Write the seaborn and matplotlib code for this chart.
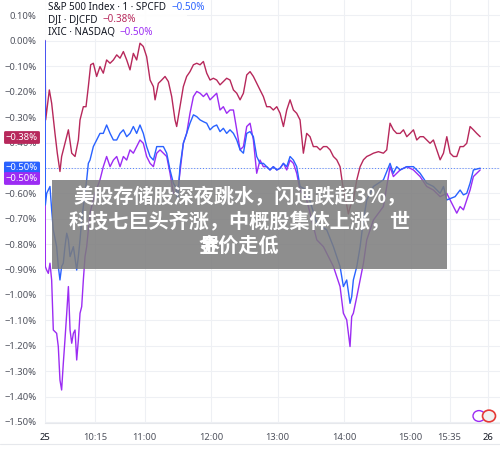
import numpy as np
import pandas as pd
import seaborn as sns
from matplotlib import pyplot as plt
from matplotlib.patches import Rectangle, Circle
from matplotlib.ticker import FuncFormatter

# minutes after 09:30, % change
spx = [(0, 0), (0.3, -0.646), (1.5, -0.600), (4.5, -0.573), (6.0, -0.665), (7.5, -0.744), (10.5, -0.810),
       (12.0, -0.888), (13.5, -0.941), (15.0, -0.888), (16.5, -0.875), (18.0, -0.810), (19.6, -0.757),
       (21.1, -0.783), (22.6, -0.849), (25.6, -0.810), (28.6, -0.902), (30.1, -0.849), (31.6, -0.783),
       (33.1, -0.705), (34.6, -0.652), (36.1, -0.600), (37.6, -0.547), (39.1, -0.482), (40.6, -0.469),
       (43.6, -0.416), (46.6, -0.390), (49.6, -0.364), (52.6, -0.364), (55.6, -0.331), (58.7, -0.364),
       (61.7, -0.390), (64.7, -0.390), (67.7, -0.364), (70.7, -0.350), (73.7, -0.377), (76.7, -0.364),
       (79.7, -0.337), (82.7, -0.364), (85.7, -0.331), (88.7, -0.364), (91.7, -0.416), (94.8, -0.455),
       (97.8, -0.469), (100.8, -0.416), (103.8, -0.416), (106.8, -0.416), (109.8, -0.442), (112.8, -0.508),
       (115.8, -0.560), (117.9, -0.575), (119.7, -0.626), (121.8, -0.495), (124.8, -0.403), (127.8, -0.364),
       (130.8, -0.324), (133.9, -0.291), (136.9, -0.298), (139.9, -0.311), (142.9, -0.318), (145.9, -0.324),
       (148.9, -0.350), (151.9, -0.337), (154.9, -0.331), (157.9, -0.357), (160.9, -0.344), (163.9, -0.364),
       (166.9, -0.350), (170.0, -0.364), (173.0, -0.390), (176.0, -0.429), (179.0, -0.442), (182.0, -0.364),
       (185.0, -0.357), (188.0, -0.377), (191.0, -0.455), (194.0, -0.482), (197.0, -0.482), (200.0, -0.495),
       (203.0, -0.508), (206.0, -0.495), (209.1, -0.508), (212.1, -0.501), (215.1, -0.482), (218.1, -0.495),
       (221.1, -0.455), (224.1, -0.469), (227.1, -0.495), (230.1, -0.573), (236.1, -0.587), (245.2, -0.718),
       (254.2, -0.744), (260.2, -0.810), (266.2, -0.888), (269.2, -0.967), (272.2, -0.941), (275.2, -1.033),
       (276.7, -1.007), (278.2, -0.941), (281.3, -0.888), (284.3, -0.810), (287.3, -0.705), (290.3, -0.626),
       (296.3, -0.573), (305.3, -0.547), (311.3, -0.482), (314.3, -0.521), (317.3, -0.495), (320.4, -0.508),
       (326.4, -0.495), (332.4, -0.495), (335.4, -0.508), (338.4, -0.521), (344.4, -0.560), (350.4, -0.573),
       (356.5, -0.600), (359.5, -0.573), (362.5, -0.626), (370.0, -0.613), (374.5, -0.587), (377.5, -0.606),
       (380.5, -0.600), (383.5, -0.560), (386.5, -0.508), (392.6, -0.501)]

dji = [(0, 0), (0.6, -0.311), (3.9, -0.193), (6.0, -0.245), (9.0, -0.364), (11.1, -0.442), (13.5, -0.514),
       (15.0, -0.455), (18.0, -0.403), (21.1, -0.350), (24.1, -0.442), (27.1, -0.455), (30.1, -0.390),
       (31.6, -0.311), (34.6, -0.259), (37.0, -0.259), (39.1, -0.180), (41.2, -0.094), (43.6, -0.088),
       (46.6, -0.140), (49.6, -0.101), (52.6, -0.127), (55.6, -0.075), (58.7, -0.088), (61.7, -0.075),
       (64.7, -0.055), (67.7, -0.068), (70.7, -0.042), (73.7, -0.075), (76.7, -0.114), (79.7, -0.049),
       (82.7, -0.075), (85.7, -0.009), (88.7, -0.022), (91.7, -0.062), (94.8, -0.154), (97.8, -0.180),
       (99.3, -0.232), (102.3, -0.167), (105.3, -0.154), (108.3, -0.140), (111.3, -0.160), (114.3, -0.219),
       (117.3, -0.311), (118.8, -0.337), (121.8, -0.259), (124.8, -0.180), (127.8, -0.140), (130.8, -0.121),
       (133.9, -0.094), (136.9, -0.088), (139.9, -0.094), (142.9, -0.081), (145.9, -0.127), (148.9, -0.154),
       (151.9, -0.147), (154.9, -0.154), (157.9, -0.173), (160.9, -0.160), (163.9, -0.147), (166.9, -0.154),
       (170.0, -0.193), (173.0, -0.206), (176.0, -0.232), (179.0, -0.206), (182.0, -0.134), (185.0, -0.121),
       (188.0, -0.140), (191.0, -0.167), (194.0, -0.193), (197.0, -0.219), (200.0, -0.259), (203.0, -0.259),
       (206.0, -0.272), (209.1, -0.259), (212.1, -0.285), (215.1, -0.337), (218.1, -0.272), (221.1, -0.232),
       (224.1, -0.272), (227.1, -0.285), (230.1, -0.311), (233.1, -0.442), (236.1, -0.364), (239.1, -0.377),
       (242.1, -0.416), (245.2, -0.416), (248.2, -0.429), (251.2, -0.416), (254.2, -0.416), (257.2, -0.429),
       (260.2, -0.455), (263.2, -0.468), (266.2, -0.495), (269.2, -0.587), (272.2, -0.646), (273.7, -0.681),
       (275.8, -0.646), (278.2, -0.626), (281.3, -0.547), (284.3, -0.495), (287.3, -0.468), (290.3, -0.455),
       (293.3, -0.449), (296.3, -0.442), (300.8, -0.436), (305.3, -0.442), (308.3, -0.429), (311.3, -0.324),
       (314.3, -0.350), (317.3, -0.364), (320.4, -0.364), (323.4, -0.350), (326.4, -0.377), (329.4, -0.364),
       (332.4, -0.350), (335.4, -0.390), (338.4, -0.377), (341.4, -0.377), (344.4, -0.390), (347.4, -0.403),
       (350.4, -0.390), (353.4, -0.429), (356.5, -0.468), (359.5, -0.442), (362.5, -0.377), (365.5, -0.442),
       (368.5, -0.455), (371.5, -0.455), (374.5, -0.416), (377.5, -0.416), (380.5, -0.403), (383.5, -0.337),
       (386.5, -0.350), (389.5, -0.364), (392.6, -0.377)]

ixic = [(0, 0), (0.3, -0.888), (1.5, -0.902), (3.0, -0.915), (4.5, -0.875), (6.0, -0.941), (7.5, -1.138),
        (10.5, -1.151), (12.0, -1.203), (13.5, -1.335), (15.0, -1.374), (16.5, -1.270), (18.0, -1.177),
        (19.6, -1.072), (21.1, -0.967), (22.6, -1.138), (24.1, -1.190), (25.6, -1.151), (27.1, -1.138),
        (28.6, -1.256), (30.1, -1.177), (31.6, -1.072), (33.1, -1.046), (34.6, -0.941), (36.1, -0.849),
        (37.6, -0.810), (40.6, -0.678), (45.1, -0.600), (49.6, -0.547), (51.1, -0.521), (52.6, -0.495),
        (55.6, -0.455), (58.7, -0.495), (61.7, -0.469), (64.7, -0.455), (67.7, -0.495), (70.7, -0.455),
        (73.7, -0.469), (76.7, -0.429), (79.7, -0.442), (82.7, -0.416), (85.7, -0.390), (88.7, -0.403),
        (91.7, -0.455), (94.8, -0.482), (97.8, -0.495), (100.8, -0.442), (103.8, -0.429), (106.8, -0.442),
        (109.8, -0.455), (112.8, -0.521), (115.8, -0.600), (117.9, -0.600), (120.3, -0.573), (124.8, -0.403),
        (127.8, -0.364), (130.8, -0.285), (133.9, -0.219), (136.9, -0.199), (139.9, -0.206), (142.9, -0.219),
        (145.9, -0.206), (148.9, -0.232), (151.9, -0.219), (154.9, -0.206), (157.9, -0.272), (160.9, -0.259),
        (163.9, -0.285), (166.9, -0.272), (170.0, -0.272), (173.0, -0.350), (176.0, -0.429), (179.0, -0.416),
        (182.0, -0.337), (185.0, -0.324), (188.0, -0.390), (191.0, -0.521), (194.0, -0.469), (197.0, -0.495),
        (200.0, -0.495), (203.0, -0.508), (206.0, -0.495), (209.1, -0.508), (212.1, -0.501), (215.1, -0.482),
        (218.1, -0.508), (221.1, -0.469), (224.1, -0.482), (227.1, -0.521), (230.1, -0.587), (236.1, -0.626),
        (245.2, -0.783), (251.2, -0.810), (260.2, -0.888), (266.2, -0.967), (269.2, -1.072), (272.2, -1.098),
        (275.2, -1.203), (276.7, -1.085), (278.2, -1.072), (281.3, -1.007), (284.3, -0.941), (287.3, -0.875),
        (290.3, -0.783), (296.3, -0.705), (305.3, -0.652), (311.3, -0.495), (314.3, -0.534), (320.4, -0.508),
        (326.4, -0.495), (332.4, -0.508), (338.4, -0.534), (344.4, -0.573), (350.4, -0.587), (356.5, -0.613),
        (362.5, -0.600), (368.5, -0.652), (371.5, -0.678), (374.5, -0.652), (377.5, -0.665), (380.5, -0.626),
        (383.5, -0.587), (386.5, -0.534), (392.6, -0.508)]

series_names = ['S&P 500 Index · 1 · SPCFD', 'DJI · DJCFD', 'IXIC · NASDAQ']
last_values = ['−0.50%', '−0.38%', '−0.50%']
colors = ['#2962ff', '#b7285b', '#9c2cf3']

tick_pos = [0, 45, 90, 150, 210, 270, 330, 365, 400]
tick_labels = ['25', '10:15', '11:00', '12:00', '13:00', '14:00', '15:00', '15:35', '26']
y_ticks = [0.1, 0.0, -0.1, -0.2, -0.3, -0.4, -0.5, -0.6, -0.7, -0.8, -0.9, -1.0, -1.1, -1.2, -1.3, -1.4, -1.5]

headline = ['美股存储股深夜跳水，闪迪跌超3%，', '科技七巨头齐涨，中概股集体上涨，世']
headline_tail = ('界', '金价走低')

W, H = 500, 450


def fx(x):
    return x / W


def fy(y):
    return 1 - y / H


def pct(v, pos=None):
    s = f"{v:.2f}%"
    if s == "-0.00%":
        s = "0.00%"
    return s.replace('-', '−')


def build_frame():
    frames = []
    for name, pts in zip(series_names, [spx, dji, ixic]):
        arr = np.array(pts)
        frames.append(pd.DataFrame({'t': arr[:, 0], 'v': arr[:, 1], 'series': name}))
    return pd.concat(frames, ignore_index=True)


def draw_chart(df):
    sns.set_theme(style="white")
    plt.rcParams['font.family'] = ['Noto Sans', 'DejaVu Sans']

    fig = plt.figure(figsize=(5, 4.5), dpi=100)
    ax = fig.add_axes([fx(45), fy(423), fx(455), 423 / H])

    # draw DJI first so the others sit on top
    order = [series_names[1], series_names[2], series_names[0]]
    for name in order:
        i = series_names.index(name)
        sns.lineplot(data=df[df.series == name], x='t', y='v', color=colors[i],
                     linewidth=1.0, sort=False, estimator=None, ax=ax, legend=False)

    ax.set_xlim(0, 410.5)
    ax.set_ylim(-1.504, 0.161)
    ax.set_xticks(tick_pos)
    ax.set_xticklabels(tick_labels)
    ax.set_yticks(y_ticks)
    ax.yaxis.set_major_formatter(FuncFormatter(pct))
    ax.set_xlabel('')
    ax.set_ylabel('')
    ax.grid(True, color='#eef0f4', linewidth=0.8)
    ax.tick_params(axis='both', length=0, labelsize=6.8, labelcolor='#50535e')
    ax.tick_params(axis='x', pad=7)
    ax.tick_params(axis='y', pad=6)
    for lbl in ax.get_xticklabels():
        if lbl.get_text() in ('25', '26'):
            lbl.set_fontweight('bold')
            lbl.set_color('#131722')
    for side in ['left', 'right', 'top']:
        ax.spines[side].set_visible(False)
    ax.spines['bottom'].set_color('#e6e8ec')
    ax.spines['bottom'].set_linewidth(0.8)

    # price line for the last S&P value
    ax.axhline(-0.50, color=colors[0], linestyle=(0, (1, 2)), linewidth=0.7, alpha=0.8, zorder=1)

    # bottom border below the time scale
    fig.add_artist(plt.Line2D([0, 1], [fy(444), fy(444)], color='#e6e8ec', linewidth=0.8))

    # legend block
    fig.add_artist(Rectangle((fx(45), fy(39)), fx(142), 39 / H, transform=fig.transFigure,
                             facecolor='white', edgecolor='none', alpha=0.9, zorder=3))
    renderer = fig.canvas.get_renderer()
    for i, ypix in enumerate([7.5, 20, 32.5]):
        t = fig.text(fx(48), fy(ypix), series_names[i], fontsize=7.1, color='#131722',
                     va='center', ha='left', zorder=4)
        right = t.get_window_extent(renderer=renderer).x1
        fig.text(fx(right + 5), fy(ypix), last_values[i], fontsize=7.1, color=colors[i],
                 va='center', ha='left', zorder=4)

    # last-value tags on the scale
    for ypix, txt, c in [(137.5, '−0.38%', colors[1]), (168, '−0.50%', colors[0]), (178.5, '−0.50%', colors[2])]:
        fig.text(fx(22), fy(ypix), txt, fontsize=6.8, color='white', ha='center', va='center', zorder=5,
                 bbox=dict(boxstyle='round,pad=0.2,rounding_size=0.15', facecolor=c, edgecolor='none'))

    # grey headline banner
    fig.add_artist(Rectangle((fx(52), fy(269)), fx(395), 89 / H, transform=fig.transFigure,
                             facecolor='#7c7c7c', edgecolor='none', alpha=0.86, zorder=6))
    cjk = ['Noto Sans CJK SC', 'DejaVu Sans']
    for k, line in enumerate(headline):
        fig.text(fx(240), fy(197 + 24 * k), line, family=cjk, fontsize=14.5, fontweight='bold',
                 color='white', ha='center', va='center', zorder=7)
    # the last line wraps onto itself in the source picture
    fig.text(fx(199), fy(245), headline_tail[0], family=cjk, fontsize=14.5, fontweight='bold',
             color='white', ha='left', va='center', zorder=7)
    fig.text(fx(199), fy(245), headline_tail[1], family=cjk, fontsize=14.5, fontweight='bold',
             color='white', ha='left', va='center', zorder=7)

    # small icons at the bottom right
    fig.add_artist(Circle((fx(479), fy(416)), 6 / W, transform=fig.transFigure, facecolor='white',
                          edgecolor=colors[2], linewidth=1.0, zorder=4))
    fig.add_artist(Circle((fx(489), fy(416)), 6.5 / W, transform=fig.transFigure, facecolor='#f1f1f1',
                          edgecolor='#e53935', linewidth=1.2, zorder=5))

    fig.savefig('out.png', dpi=100)
    return fig


draw_chart(build_frame())
